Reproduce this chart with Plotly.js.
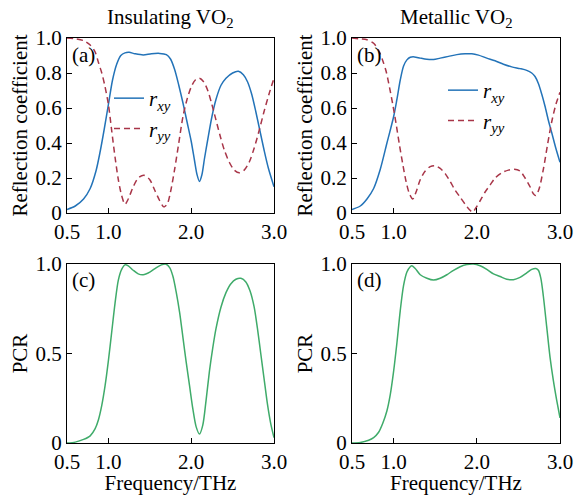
<!DOCTYPE html>
<html>
<head>
<meta charset="utf-8">
<script src="https://cdn.plot.ly/plotly-3.0.1.min.js"></script>
<style>html,body{margin:0;padding:0;background:#fff}#chart{width:576px;height:495px}</style>
</head>
<body>
<div id="chart"></div>
<script>
// ---- data ----
const freqA_xy = [0.5,0.6,0.7,0.78,0.85,0.9,0.95,1.0,1.05,1.1,1.15,1.2,1.25,1.32,1.42,1.52,1.62,1.70,1.75,1.80,1.85,1.90,1.95,2.0,2.04,2.07,2.10,2.13,2.16,2.20,2.25,2.30,2.36,2.42,2.50,2.57,2.63,2.68,2.73,2.78,2.83,2.88,2.93,3.0];
const rxyA = [0.02,0.04,0.08,0.14,0.24,0.35,0.48,0.62,0.76,0.85,0.9,0.915,0.918,0.91,0.903,0.91,0.912,0.905,0.88,0.82,0.73,0.63,0.52,0.41,0.30,0.22,0.18,0.22,0.31,0.42,0.55,0.65,0.73,0.77,0.80,0.81,0.79,0.75,0.68,0.58,0.47,0.36,0.26,0.15];

const freqA_yy = [0.5,0.6,0.7,0.78,0.84,0.88,0.92,0.96,1.0,1.04,1.08,1.12,1.16,1.20,1.24,1.30,1.36,1.43,1.50,1.56,1.62,1.67,1.71,1.75,1.80,1.85,1.90,1.95,2.0,2.05,2.10,2.15,2.20,2.25,2.30,2.35,2.40,2.46,2.52,2.58,2.64,2.70,2.76,2.82,2.88,2.94,3.0];
const ryyA = [1.0,0.995,0.985,0.96,0.92,0.86,0.80,0.72,0.62,0.47,0.32,0.19,0.10,0.05,0.08,0.15,0.20,0.215,0.19,0.13,0.07,0.035,0.05,0.12,0.25,0.40,0.55,0.65,0.72,0.76,0.77,0.75,0.70,0.62,0.53,0.44,0.36,0.29,0.245,0.23,0.245,0.29,0.37,0.47,0.58,0.68,0.77];

const freqB_xy = [0.5,0.6,0.68,0.76,0.84,0.92,1.0,1.04,1.08,1.12,1.16,1.20,1.25,1.32,1.40,1.48,1.56,1.66,1.76,1.86,1.94,2.02,2.12,2.22,2.32,2.42,2.52,2.60,2.66,2.70,2.74,2.78,2.82,2.86,2.90,2.95,3.0];
const rxyB = [0.02,0.04,0.08,0.14,0.25,0.40,0.55,0.65,0.76,0.84,0.875,0.89,0.892,0.885,0.878,0.877,0.885,0.895,0.905,0.91,0.91,0.902,0.885,0.87,0.85,0.835,0.825,0.815,0.80,0.78,0.74,0.68,0.61,0.53,0.46,0.37,0.29];

const freqB_yy = [0.5,0.6,0.68,0.76,0.82,0.87,0.91,0.95,0.99,1.03,1.07,1.11,1.15,1.19,1.23,1.27,1.32,1.38,1.44,1.50,1.56,1.62,1.68,1.74,1.80,1.86,1.91,1.95,1.99,2.04,2.10,2.16,2.22,2.30,2.38,2.45,2.52,2.58,2.64,2.68,2.71,2.75,2.80,2.85,2.90,2.95,3.0];
const ryyB = [1.0,0.995,0.99,0.97,0.93,0.87,0.81,0.72,0.62,0.51,0.39,0.28,0.18,0.11,0.08,0.12,0.19,0.24,0.265,0.27,0.255,0.225,0.18,0.13,0.09,0.05,0.02,0.005,0.03,0.07,0.12,0.16,0.20,0.23,0.245,0.25,0.24,0.20,0.15,0.11,0.10,0.14,0.25,0.39,0.52,0.62,0.69];

const freqC = [0.5,0.6,0.7,0.78,0.84,0.88,0.92,0.96,1.0,1.04,1.08,1.12,1.16,1.20,1.24,1.30,1.36,1.42,1.50,1.58,1.64,1.69,1.74,1.78,1.82,1.86,1.90,1.94,1.98,2.02,2.06,2.10,2.14,2.18,2.22,2.26,2.30,2.36,2.42,2.48,2.54,2.60,2.66,2.71,2.76,2.80,2.84,2.88,2.92,2.96,3.0];
const pcrC = [0.0,0.005,0.02,0.04,0.08,0.13,0.21,0.32,0.46,0.62,0.78,0.91,0.97,0.995,0.99,0.965,0.945,0.94,0.955,0.98,0.995,1.0,0.98,0.93,0.84,0.73,0.59,0.45,0.32,0.19,0.09,0.05,0.10,0.24,0.40,0.53,0.64,0.76,0.84,0.89,0.915,0.92,0.90,0.85,0.76,0.64,0.50,0.36,0.22,0.11,0.03];

const freqD = [0.5,0.6,0.7,0.76,0.82,0.87,0.92,0.96,1.0,1.04,1.08,1.12,1.16,1.20,1.22,1.26,1.32,1.40,1.48,1.56,1.64,1.72,1.80,1.88,1.96,2.04,2.12,2.20,2.28,2.36,2.44,2.52,2.60,2.66,2.71,2.74,2.77,2.80,2.84,2.88,2.92,2.96,3.0];
const pcrD = [0.0,0.003,0.015,0.03,0.06,0.11,0.18,0.27,0.40,0.56,0.74,0.88,0.955,0.985,0.99,0.975,0.94,0.92,0.91,0.92,0.94,0.965,0.985,0.997,1.0,0.99,0.97,0.945,0.93,0.915,0.912,0.925,0.95,0.97,0.975,0.965,0.92,0.82,0.65,0.48,0.35,0.24,0.14];

const xTickVals = [0.5,1.0,2.0,3.0];
const xTickText = ["0.5","1.0","2.0","3.0"];
const rTickVals = [0,0.2,0.4,0.6,0.8,1.0];
const rTickText = ["0","0.2","0.4","0.6","0.8","1.0"];
const pTickVals = [0,0.5,1.0];
const pTickText = ["0","0.5","1.0"];

// ---- styles ----
const BLUE = '#2373b8', RED = '#a83548', GREEN = '#3fab6a';
const FONT = 'Liberation Serif, Times New Roman, serif';
const FS = 21;

const traces = [
  {x: freqA_xy, y: rxyA, xaxis:'x', yaxis:'y', mode:'lines', line:{color:BLUE, width:1.5, shape:'spline', smoothing:0.8}, name:'<i>r</i><sub><i>xy</i></sub>', legend:'legend'},
  {x: freqA_yy, y: ryyA, xaxis:'x', yaxis:'y', mode:'lines', line:{color:RED, width:1.5, dash:'6px,4px', shape:'spline', smoothing:0.8}, name:'<i>r</i><sub><i>yy</i></sub>', legend:'legend'},
  {x: freqB_xy, y: rxyB, xaxis:'x2', yaxis:'y2', mode:'lines', line:{color:BLUE, width:1.5, shape:'spline', smoothing:0.8}, name:'<i>r</i><sub><i>xy</i></sub>', legend:'legend2'},
  {x: freqB_yy, y: ryyB, xaxis:'x2', yaxis:'y2', mode:'lines', line:{color:RED, width:1.5, dash:'6px,4px', shape:'spline', smoothing:0.8}, name:'<i>r</i><sub><i>yy</i></sub>', legend:'legend2'},
  {x: freqC, y: pcrC, xaxis:'x3', yaxis:'y3', mode:'lines', line:{color:GREEN, width:1.5, shape:'spline', smoothing:0.8}, showlegend:false},
  {x: freqD, y: pcrD, xaxis:'x4', yaxis:'y4', mode:'lines', line:{color:GREEN, width:1.5, shape:'spline', smoothing:0.8}, showlegend:false}
];

const colL = [67/576, 274/576], colR = [352/576, 560/576];
const rowT = [(495-213)/495, (495-38)/495], rowB = [(495-443)/495, (495-264)/495];

function xax(dom, anchor, withTitle) {
  const a = {domain: dom, anchor: anchor, range:[0.5,3.0], tickvals:xTickVals, ticktext:xTickText,
    ticks:'inside', ticklen:5, tickwidth:1, tickcolor:'#000', showline:true, linecolor:'#000', linewidth:1,
    mirror:true, showgrid:false, zeroline:false, tickfont:{family:FONT, size:FS, color:'#000'}, automargin:false};
  if (withTitle) a.title = {text:'Frequency/THz', font:{family:FONT, size:FS, color:'#000'}, standoff:4};
  return a;
}
function yax(dom, anchor, vals, text, title) {
  return {domain: dom, anchor: anchor, range:[0,1.0], tickvals:vals, ticktext:text,
    ticks:'inside', ticklen:5, tickwidth:1, tickcolor:'#000', showline:true, linecolor:'#000', linewidth:1,
    mirror:true, showgrid:false, zeroline:false, tickfont:{family:FONT, size:FS, color:'#000'}, automargin:false,
    title:{text:title, font:{family:FONT, size:FS, color:'#000'}, standoff:2}};
}

const legStyle = {bgcolor:'rgba(0,0,0,0)', borderwidth:0, font:{family:FONT, size:FS, color:'#000'}, xanchor:'left', yanchor:'top', tracegroupgap:0, itemwidth:30};

const layout = {
  width:576, height:495, margin:{l:0, r:0, t:0, b:0}, paper_bgcolor:'#fff', plot_bgcolor:'#fff',
  font:{family:FONT, size:FS, color:'#000'},
  xaxis: xax(colL,'y',false), yaxis: yax(rowT,'x',rTickVals,rTickText,'Reflection coefficient'),
  xaxis2: xax(colR,'y2',false), yaxis2: yax(rowT,'x2',rTickVals,rTickText,'Reflection coefficient'),
  xaxis3: xax(colL,'y3',true), yaxis3: yax(rowB,'x3',pTickVals,pTickText,'PCR'),
  xaxis4: xax(colR,'y4',true), yaxis4: yax(rowB,'x4',pTickVals,pTickText,'PCR'),
  legend: Object.assign({x:109/576, y:(495-78)/495}, legStyle),
  legend2: Object.assign({x:443/576, y:(495-70)/495}, legStyle),
  annotations: [
    {text:'Insulating VO<sub>2</sub>', xref:'paper', yref:'paper', x:170.5/576, y:(495-18)/495, xanchor:'center', yanchor:'middle', showarrow:false, font:{family:FONT, size:FS, color:'#000'}},
    {text:'Metallic VO<sub>2</sub>', xref:'paper', yref:'paper', x:456/576, y:(495-18)/495, xanchor:'center', yanchor:'middle', showarrow:false, font:{family:FONT, size:FS, color:'#000'}},
    {text:'(a)', xref:'paper', yref:'paper', x:70/576, y:(495-55)/495, xanchor:'left', yanchor:'middle', showarrow:false, font:{family:FONT, size:FS, color:'#000'}},
    {text:'(b)', xref:'paper', yref:'paper', x:355/576, y:(495-55)/495, xanchor:'left', yanchor:'middle', showarrow:false, font:{family:FONT, size:FS, color:'#000'}},
    {text:'(c)', xref:'paper', yref:'paper', x:70/576, y:(495-280)/495, xanchor:'left', yanchor:'middle', showarrow:false, font:{family:FONT, size:FS, color:'#000'}},
    {text:'(d)', xref:'paper', yref:'paper', x:355/576, y:(495-280)/495, xanchor:'left', yanchor:'middle', showarrow:false, font:{family:FONT, size:FS, color:'#000'}}
  ]
};

Plotly.newPlot('chart', traces, layout, {staticPlot:true, displayModeBar:false});
</script>
</body>
</html>
